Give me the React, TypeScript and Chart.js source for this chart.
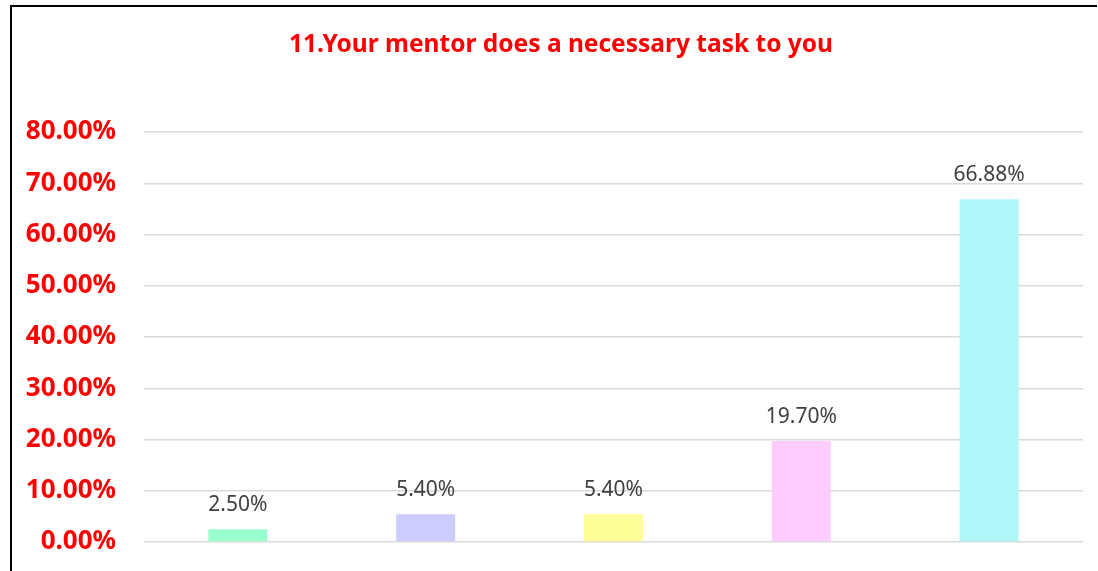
import React, { useEffect, useRef } from "react";
import { Chart, registerables } from "chart.js";

Chart.register(...registerables);

const TITLE = "11.Your mentor does a necessary task to you";
const categories = ["Strongly disagree", "Disagree", "Neutral", "Agree", "Strongly agree"];
const values = [0.025, 0.054, 0.054, 0.197, 0.6688];
const barColors = ["#99ffcc", "#ccccff", "#ffff99", "#ffccff", "#b0f6f8"];
const yTicks = [0, 0.1, 0.2, 0.3, 0.4, 0.5, 0.6, 0.7, 0.8];

const fmt = (v: number) => (v * 100).toFixed(2) + "%";

const labelPlugin = {
  id: "barLabels",
  afterDatasetsDraw(chart: any) {
    const ctx = chart.ctx;
    const meta = chart.getDatasetMeta(0);
    ctx.save();
    ctx.font = "21px 'Noto Sans'";
    ctx.fillStyle = "#404040";
    ctx.textAlign = "center";
    ctx.textBaseline = "alphabetic";
    meta.data.forEach((bar: any, i: number) => {
      ctx.fillText(fmt(values[i]), bar.x, bar.y - 18);
    });
    ctx.restore();
  },
};

const titlePlugin = {
  id: "customTitle",
  afterDraw(chart: any) {
    const ctx = chart.ctx;
    ctx.save();
    ctx.font = "bold 24.5px 'Noto Sans'";
    ctx.fillStyle = "#ff0000";
    ctx.textAlign = "center";
    ctx.textBaseline = "middle";
    ctx.fillText(TITLE, 561, 45);
    ctx.restore();
  },
};

export default function App() {
  const ref = useRef<HTMLCanvasElement | null>(null);
  useEffect(() => {
    if (!ref.current) return;
    const chart = new Chart(ref.current, {
      type: "bar",
      data: {
        labels: categories,
        datasets: [
          {
            data: values,
            backgroundColor: barColors,
            borderWidth: 0,
            barPercentage: 0.314,
            categoryPercentage: 1,
          },
        ],
      },
      options: {
        animation: false,
        responsive: false,
        maintainAspectRatio: false,
        layout: { padding: { left: 12, right: 15, top: 132, bottom: 29 } },
        plugins: {
          legend: { display: false },
          title: { display: false },
          tooltip: { enabled: false },
        },
        scales: {
          x: { display: false },
          y: {
            min: 0,
            max: 0.8,
            afterFit(scale: any) {
              scale.width = 132;
              scale.paddingTop = 0;
              scale.paddingBottom = 0;
            },
            afterBuildTicks(scale: any) {
              scale.ticks = yTicks.map((v) => ({ value: v }));
            },
            border: { display: false },
            grid: { color: "#d9d9d9", lineWidth: 1.5, drawTicks: false },
            ticks: {
              padding: 28,
              color: "#ff0000",
              font: { family: "'Noto Sans'", size: 26, weight: "bold" },
              callback: (v: any) => fmt(Number(v)),
            },
          },
        },
      },
      plugins: [labelPlugin, titlePlugin],
    });
    return () => chart.destroy();
  }, []);
  return (
    <div style={{ position: "absolute", left: 0, top: 0, width: 1098, height: 571, background: "#fff" }}>
      <canvas ref={ref} width={1098} height={571} style={{ position: "absolute", left: 0, top: 0 }} />
      <div
        style={{
          position: "absolute",
          left: 10,
          top: 5,
          width: 1085,
          height: 580,
          borderLeft: "2px solid #000",
          borderTop: "2px solid #000",
          pointerEvents: "none",
        }}
      />
    </div>
  );
}
